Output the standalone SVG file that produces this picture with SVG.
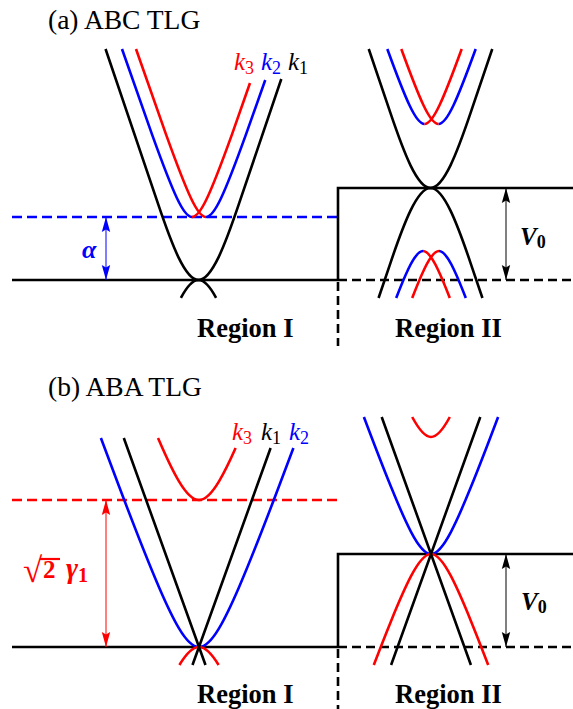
<svg xmlns="http://www.w3.org/2000/svg" width="573" height="709" viewBox="0 0 573 709">
<style>
text{font-family:"Liberation Serif","Times New Roman",serif}
.title{font-size:27.5px}
.region{font-size:26.5px;font-weight:bold}
.k{font-size:25px;font-style:italic}
.sub{font-size:18px;font-style:normal}
.c{fill:none;stroke-width:2.6}
.bk{stroke:#000}
.bl{stroke:#0000ff}
.rd{stroke:#ff0000}
.ln{fill:none;stroke:#000;stroke-width:2.6}
.dash{stroke-dasharray:10 5}
.vd{stroke-dasharray:9 5}
.arr{fill:none;stroke-width:1}
</style>
<defs>
<marker id="ahK" markerUnits="userSpaceOnUse" markerWidth="20" markerHeight="12" viewBox="-16 -6 20 12" refX="0" refY="0" orient="auto-start-reverse"><path d="M0,0 L-15,-4.2 L-12.5,0 L-15,4.2 Z" fill="#000"/></marker>
<marker id="ahB" markerUnits="userSpaceOnUse" markerWidth="20" markerHeight="12" viewBox="-16 -6 20 12" refX="0" refY="0" orient="auto-start-reverse"><path d="M0,0 L-15,-4.2 L-12.5,0 L-15,4.2 Z" fill="#0000ff"/></marker>
<marker id="ahR" markerUnits="userSpaceOnUse" markerWidth="20" markerHeight="12" viewBox="-16 -6 20 12" refX="0" refY="0" orient="auto-start-reverse"><path d="M0,0 L-15,-4.2 L-12.5,0 L-15,4.2 Z" fill="#ff0000"/></marker>
</defs>

<g id="panel-a">
<text class="title" x="48" y="29">(a) ABC TLG</text>
<g id="a-levels">
<path class="ln" d="M12,280 H338"/>
<path class="ln dash" d="M12,217 H338" style="stroke:#0000ff"/>
<path class="ln" d="M338,280 V188 H573"/>
<path class="ln vd" d="M338,280 H573"/>
<path class="ln vd" d="M338,282 V346"/>
</g>
<g id="a-region1-bands">
<path class="c bl" d="M122,49 L152,134.4 C160.33,157.49 168.67,180.67 177,198.3 C182,208.88 187,217 192,217 M206,217 C211,217 216,208.88 221,198.3 C229.33,180.67 237.67,157.49 246,134.4 L265.25,80"/>
<path class="c rd" d="M136,49 L166,134.4 C174.33,157.49 182.67,180.67 191,198.3 C196,208.88 201,217 206,217 M192,217 C197,217 202,208.88 207,198.3 C215.33,180.67 223.67,157.49 232,134.4 L250,83"/>
<path class="c bk" d="M105.55,49 L158.5,205.2 C171.83,244.53 185.17,280 198.5,280 C211.83,280 225.17,244.53 238.5,205.2 L281.3,79"/>
<path class="c bk" d="M180.9,297.9 C186.77,286.87 192.63,280 198.5,280 C204.37,280 210.23,286.87 216.1,297.9"/>
</g>
<g id="a-region2-bands">
<path class="c bl" d="M387.3,49 C394.7,69.3 402.1,89.64 409.5,105.3 C414.5,115.88 419.5,124 424.5,124 M438.5,124 C443.5,124 448.5,115.88 453.5,105.3 C460.9,89.64 468.3,69.3 475.7,49"/>
<path class="c rd" d="M401.3,49 C408.7,69.3 416.1,89.64 423.5,105.3 C428.5,115.88 433.5,124 438.5,124 M424.5,124 C429.5,124 434.5,115.88 439.5,105.3 C446.9,89.64 454.3,69.3 461.7,49"/>
<path class="c bl" d="M396.2,298 C400.13,287.81 404.07,278.02 408,269.7 C413,259.12 418,251 423,251 M439,251 C444,251 449,259.12 454,269.7 C457.93,278.02 461.87,287.81 465.8,298"/>
<path class="c rd" d="M412.2,298 C416.13,287.81 420.07,278.02 424,269.7 C429,259.12 434,251 439,251 M423,251 C428,251 433,259.12 438,269.7 C441.93,278.02 445.87,287.81 449.8,298"/>
<path class="c bk" d="M368.74,49 L390.5,113.2 C403.83,152.53 417.17,188 430.5,188 C443.83,188 457.17,152.53 470.5,113.2 L492.26,49"/>
<path class="c bk" d="M378.57,298 L390.5,262.8 C403.83,223.47 417.17,188 430.5,188 C443.83,188 457.17,223.47 470.5,262.8 L482.43,298"/>
</g>
<g id="a-alpha">
<line class="arr" x1="106" y1="217" x2="106" y2="280" stroke="#0000ff" marker-start="url(#ahB)" marker-end="url(#ahB)"/>
<text x="82" y="258" fill="#0000ff" font-size="26" font-weight="bold" font-style="italic">α</text>
</g>
<g id="a-V0">
<line class="arr" x1="506" y1="188" x2="506" y2="280" stroke="#000" marker-start="url(#ahK)" marker-end="url(#ahK)"/>
<text x="520" y="245" font-size="25" font-weight="bold" font-style="italic">V<tspan font-size="18" dy="3" font-style="normal">0</tspan></text>
</g>
<g id="a-labels">
<text class="k" x="234" y="70" fill="#ff0000">k<tspan class="sub" dy="4">3</tspan></text>
<text class="k" x="261" y="70" fill="#0000ff">k<tspan class="sub" dy="4">2</tspan></text>
<text class="k" x="288" y="70">k<tspan class="sub" dy="4">1</tspan></text>
<text class="region" x="197" y="337">Region I</text>
<text class="region" x="395" y="337">Region II</text>
</g>
</g>

<g id="panel-b">
<text class="title" x="48" y="396">(b) ABA TLG</text>
<g id="b-levels">
<path class="ln" d="M12,647 H338"/>
<path class="ln dash" d="M12,500 H338" style="stroke:#ff0000"/>
<path class="ln" d="M338,647 V554 H573"/>
<path class="ln vd" d="M338,647 H573"/>
<path class="ln vd" d="M338,649 V709"/>
</g>
<g id="b-region1-bands">
<path class="c bl" d="M100.9,438 L119,486.27 C132.33,521.47 145.67,556.28 159,587.2 C165.67,602.66 172.33,617.16 179,628.34 C185.67,639.52 192.33,647 199,647 C205.67,647 212.33,639.52 219,628.34 C225.67,617.16 232.33,602.66 239,587.2 C252.33,556.28 265.67,521.47 279,486.27 L293.4,448"/>
<path class="c rd" d="M158,437.9 L159,440.2 C165.67,455.66 172.33,470.16 179,481.34 C185.67,492.52 192.33,500 199,500 C205.67,500 212.33,492.52 219,481.34 C224.53,472.06 230.07,460.47 235.6,448"/>
<path class="c rd" d="M179.4,665 C185.93,654.19 192.47,647 199,647 C205.53,647 212.07,654.19 218.6,665"/>
<path class="c bk" d="M123.8,438 L205.5,665 M270.6,448 L192.5,665"/>
</g>
<g id="b-region2-bands">
<path class="c bl" d="M363.9,417 C372.93,440.98 381.97,464.63 391,486.85 C397.67,503.25 404.33,519.02 411,531.79 C417.67,544.56 424.33,554 431,554 C437.67,554 444.33,544.56 451,531.79 C457.67,519.02 464.33,503.25 471,486.85 C480.03,464.63 489.07,440.98 498.1,417"/>
<path class="c rd" d="M373.8,665 C379.53,649.97 385.27,635.25 391,621.15 C397.67,604.75 404.33,588.98 411,576.21 C417.67,563.44 424.33,554 431,554 C437.67,554 444.33,563.44 451,576.21 C457.67,588.98 464.33,604.75 471,621.15 C476.73,635.25 482.47,649.97 488.2,665"/>
<path class="c rd" d="M412.2,417 C418.47,428.66 424.73,437 431,437 C437.27,437 443.53,428.66 449.8,417"/>
<path class="c bk" d="M381.7,417 L470.9,665 M480.3,417 L391.1,665"/>
</g>
<g id="b-gap">
<line class="arr" x1="106" y1="500" x2="106" y2="647" stroke="#ff0000" marker-start="url(#ahR)" marker-end="url(#ahR)"/>
<text y="578" fill="#ff0000" font-size="26" font-weight="bold"><tspan x="23" y="582" font-size="35">√</tspan><tspan x="43" y="578" font-size="25">2</tspan><tspan x="66" font-size="29" font-style="italic">γ</tspan><tspan font-size="20" dy="4">1</tspan></text>
<line x1="40" y1="559" x2="60" y2="559" stroke="#ff0000" stroke-width="2.2"/>
</g>
<g id="b-V0">
<line class="arr" x1="506" y1="554" x2="506" y2="647" stroke="#000" marker-start="url(#ahK)" marker-end="url(#ahK)"/>
<text x="521" y="610" font-size="25" font-weight="bold" font-style="italic">V<tspan font-size="18" dy="3" font-style="normal">0</tspan></text>
</g>
<g id="b-labels">
<text class="k" x="232" y="440" fill="#ff0000">k<tspan class="sub" dy="4">3</tspan></text>
<text class="k" x="261" y="440">k<tspan class="sub" dy="4">1</tspan></text>
<text class="k" x="289" y="440" fill="#0000ff">k<tspan class="sub" dy="4">2</tspan></text>
<text class="region" x="197" y="703">Region I</text>
<text class="region" x="395" y="703">Region II</text>
</g>
</g>
</svg>
